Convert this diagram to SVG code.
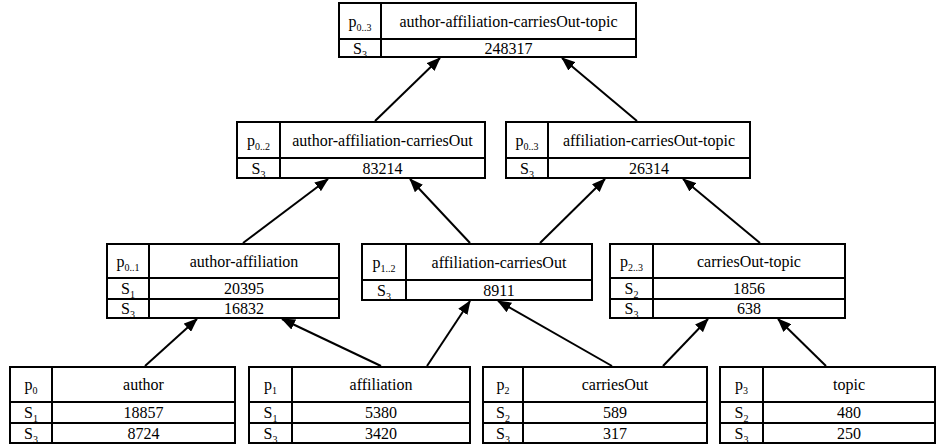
<svg xmlns="http://www.w3.org/2000/svg" width="938" height="447" viewBox="0 0 938 447" font-family="'Liberation Serif', 'DejaVu Serif', serif">
<style>
.box{fill:#fff;stroke:#000;stroke-width:2}
.dv{stroke:#000;stroke-width:2}
text{font-family:'Liberation Serif','DejaVu Serif',serif;font-size:16px;fill:#000;text-anchor:middle}
.sub{font-size:10px}
.edge{stroke:#000;stroke-width:2;fill:none;marker-end:url(#ah)}
</style>
<defs>
<marker id="ah" markerUnits="userSpaceOnUse" markerWidth="14" markerHeight="11" refX="13" refY="5.5" orient="auto">
<path d="M0,0 L14,5.5 L0,11 z" fill="#000"/>
</marker>
</defs>
<rect width="938" height="447" fill="#fff"/>

<g id="n_top">
<rect class="box" x="339" y="3" width="297" height="54"/>
<line class="dv" x1="381" y1="3" x2="381" y2="57"/>
<line class="dv" x1="339" y1="39" x2="636" y2="39"/>
<text x="360" y="27">p<tspan class="sub" dy="4">0..3</tspan></text>
<text x="508.5" y="26.5">author-affiliation-carriesOut-topic</text>
<text x="360" y="53.5">S<tspan class="sub" dy="4">3</tspan></text>
<text x="508.5" y="53.5">248317</text>
</g>

<g id="n_aac">
<rect class="box" x="237" y="122" width="248" height="56"/>
<line class="dv" x1="280" y1="122" x2="280" y2="178"/>
<line class="dv" x1="237" y1="158" x2="485" y2="158"/>
<text x="258.5" y="146">p<tspan class="sub" dy="4">0..2</tspan></text>
<text x="382.5" y="145.5">author-affiliation-carriesOut</text>
<text x="258.5" y="173.5">S<tspan class="sub" dy="4">3</tspan></text>
<text x="382.5" y="173.5">83214</text>
</g>

<g id="n_act">
<rect class="box" x="506" y="122" width="244" height="56"/>
<line class="dv" x1="548" y1="122" x2="548" y2="178"/>
<line class="dv" x1="506" y1="158" x2="750" y2="158"/>
<text x="527" y="146">p<tspan class="sub" dy="4">0..3</tspan></text>
<text x="649" y="145.5">affiliation-carriesOut-topic</text>
<text x="527" y="173.5">S<tspan class="sub" dy="4">3</tspan></text>
<text x="649" y="173.5">26314</text>
</g>

<g id="n_aa">
<rect class="box" x="107" y="244" width="232" height="74"/>
<line class="dv" x1="149" y1="244" x2="149" y2="318"/>
<line class="dv" x1="107" y1="278" x2="339" y2="278"/>
<line class="dv" x1="107" y1="299" x2="339" y2="299"/>
<text x="128" y="267">p<tspan class="sub" dy="4">0..1</tspan></text>
<text x="244" y="266.5">author-affiliation</text>
<text x="128" y="294">S<tspan class="sub" dy="4">1</tspan></text>
<text x="244" y="294">20395</text>
<text x="128" y="314">S<tspan class="sub" dy="4">3</tspan></text>
<text x="244" y="314">16832</text>
</g>

<g id="n_ac">
<rect class="box" x="362" y="244" width="230" height="56"/>
<line class="dv" x1="406" y1="244" x2="406" y2="300"/>
<line class="dv" x1="362" y1="280" x2="592" y2="280"/>
<text x="384" y="268">p<tspan class="sub" dy="4">1..2</tspan></text>
<text x="499" y="267.5">affiliation-carriesOut</text>
<text x="384" y="295.5">S<tspan class="sub" dy="4">3</tspan></text>
<text x="499" y="295.5">8911</text>
</g>

<g id="n_ct">
<rect class="box" x="610" y="244" width="235" height="74"/>
<line class="dv" x1="653" y1="244" x2="653" y2="318"/>
<line class="dv" x1="610" y1="278" x2="845" y2="278"/>
<line class="dv" x1="610" y1="299" x2="845" y2="299"/>
<text x="631.5" y="267">p<tspan class="sub" dy="4">2..3</tspan></text>
<text x="749" y="266.5">carriesOut-topic</text>
<text x="631.5" y="294">S<tspan class="sub" dy="4">2</tspan></text>
<text x="749" y="294">1856</text>
<text x="631.5" y="314">S<tspan class="sub" dy="4">3</tspan></text>
<text x="749" y="314">638</text>
</g>

<g id="n_author">
<rect class="box" x="10" y="367" width="225" height="76"/>
<line class="dv" x1="52" y1="367" x2="52" y2="443"/>
<line class="dv" x1="10" y1="402" x2="235" y2="402"/>
<line class="dv" x1="10" y1="423" x2="235" y2="423"/>
<text x="31" y="390">p<tspan class="sub" dy="4">0</tspan></text>
<text x="143.5" y="389.5">author</text>
<text x="31" y="418">S<tspan class="sub" dy="4">1</tspan></text>
<text x="143.5" y="418">18857</text>
<text x="31" y="438.5">S<tspan class="sub" dy="4">3</tspan></text>
<text x="143.5" y="438.5">8724</text>
</g>

<g id="n_affiliation">
<rect class="box" x="249" y="367" width="221" height="76"/>
<line class="dv" x1="292" y1="367" x2="292" y2="443"/>
<line class="dv" x1="249" y1="402" x2="470" y2="402"/>
<line class="dv" x1="249" y1="423" x2="470" y2="423"/>
<text x="270.5" y="390">p<tspan class="sub" dy="4">1</tspan></text>
<text x="381" y="389.5">affiliation</text>
<text x="270.5" y="418">S<tspan class="sub" dy="4">1</tspan></text>
<text x="381" y="418">5380</text>
<text x="270.5" y="438.5">S<tspan class="sub" dy="4">3</tspan></text>
<text x="381" y="438.5">3420</text>
</g>

<g id="n_carriesOut">
<rect class="box" x="483" y="367" width="224" height="76"/>
<line class="dv" x1="523" y1="367" x2="523" y2="443"/>
<line class="dv" x1="483" y1="402" x2="707" y2="402"/>
<line class="dv" x1="483" y1="423" x2="707" y2="423"/>
<text x="503" y="390">p<tspan class="sub" dy="4">2</tspan></text>
<text x="615" y="389.5">carriesOut</text>
<text x="503" y="418">S<tspan class="sub" dy="4">2</tspan></text>
<text x="615" y="418">589</text>
<text x="503" y="438.5">S<tspan class="sub" dy="4">3</tspan></text>
<text x="615" y="438.5">317</text>
</g>

<g id="n_topic">
<rect class="box" x="720" y="367" width="215" height="76"/>
<line class="dv" x1="763" y1="367" x2="763" y2="443"/>
<line class="dv" x1="720" y1="402" x2="935" y2="402"/>
<line class="dv" x1="720" y1="423" x2="935" y2="423"/>
<text x="741.5" y="390">p<tspan class="sub" dy="4">3</tspan></text>
<text x="849" y="389.5">topic</text>
<text x="741.5" y="418">S<tspan class="sub" dy="4">2</tspan></text>
<text x="849" y="418">480</text>
<text x="741.5" y="438.5">S<tspan class="sub" dy="4">3</tspan></text>
<text x="849" y="438.5">250</text>
</g>

<g id="connectors">
<line class="edge" x1="145" y1="366" x2="197" y2="319"/>
<line class="edge" x1="381" y1="366" x2="282" y2="319"/>
<line class="edge" x1="427" y1="366" x2="470" y2="301"/>
<line class="edge" x1="612" y1="366" x2="498" y2="301"/>
<line class="edge" x1="663" y1="366" x2="708" y2="319"/>
<line class="edge" x1="826" y1="366" x2="778" y2="319"/>
<line class="edge" x1="243" y1="243" x2="328" y2="179"/>
<line class="edge" x1="470" y1="243" x2="410" y2="179"/>
<line class="edge" x1="540" y1="243" x2="605" y2="179"/>
<line class="edge" x1="760" y1="243" x2="683" y2="179"/>
<line class="edge" x1="375" y1="121" x2="440" y2="58"/>
<line class="edge" x1="637" y1="121" x2="562" y2="58"/>
</g>
</svg>
